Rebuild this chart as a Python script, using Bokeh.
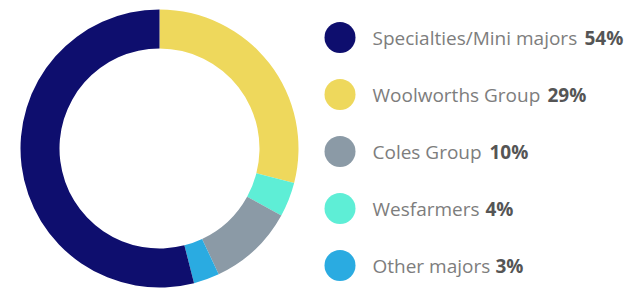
import math
from bokeh.plotting import figure
from bokeh.models import Range1d, ColumnDataSource
from bokeh.core.properties import value
from bokeh.embed import file_html
from bokeh.resources import INLINE

# data (clockwise from 12 o'clock)
ring_names = ["Woolworths Group", "Wesfarmers", "Coles Group", "Other majors", "Specialties/Mini majors"]
ring_shares = [29, 4, 10, 3, 54]
ring_colors = ["#eed85c", "#5eeed6", "#8b9aa6", "#2aabe1", "#0e0e6e"]

legend_names = ["Specialties/Mini majors", "Woolworths Group", "Coles Group", "Wesfarmers", "Other majors"]
legend_pcts = ["54%", "29%", "10%", "4%", "3%"]
legend_colors = ["#0e0e6e", "#eed85c", "#8b9aa6", "#5eeed6", "#2aabe1"]

W, H = 631, 288
p = figure(width=W, height=H, output_backend="svg", toolbar_location=None,
           x_range=Range1d(0, W), y_range=Range1d(0, H), min_border=0)
p.axis.visible = False
p.grid.visible = False
p.outline_line_color = None
p.background_fill_color = "white"
p.border_fill_color = "white"

cx, cy = 159, 140
total = sum(ring_shares)
starts, ends = [], []
acc = 0.0
for s in ring_shares:
    a0 = math.pi / 2 - 2 * math.pi * acc / total
    acc += s
    a1 = math.pi / 2 - 2 * math.pi * acc / total
    starts.append(a1)
    ends.append(a0)
src = ColumnDataSource(dict(start=starts, end=ends, color=ring_colors))
p.annular_wedge(x=cx, y=cy, inner_radius=100, outer_radius=139,
                start_angle="start", end_angle="end", fill_color="color",
                line_color=None, source=src)

n = len(legend_names)
circ_y = [251 - 57 * i for i in range(n)]
text_y = [251 - 57 * i for i in range(n)]
p.scatter(x=[339.5] * n, y=circ_y, size=31, marker="circle",
          fill_color=legend_colors, line_color=None)
p.text(x=[372] * n, y=text_y, text=legend_names, text_font=value("Open Sans"),
       text_font_size="19px", text_color="#7d7d7d", text_baseline="middle")
pct_x = [584, 547, 489, 485, 495]
p.text(x=pct_x, y=text_y, text=legend_pcts, text_font=value("Open Sans"),
       text_font_size="19px", text_font_style="bold", text_color="#555555",
       text_baseline="middle")

open("out.html", "w").write(file_html(p, INLINE))
